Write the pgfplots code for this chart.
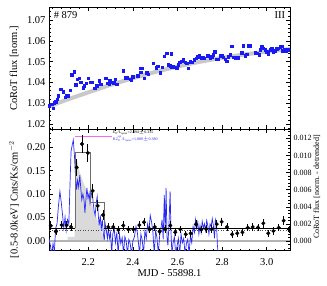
\documentclass[border=0pt]{standalone}
\usepackage{fontspec}
\setmainfont{Liberation Serif}
\usepackage{pgfplots}
\pgfplotsset{compat=1.18}
\definecolor{ptblue}{RGB}{25,25,245}
\definecolor{lnblue}{RGB}{40,40,250}
\definecolor{trend}{RGB}{200,200,200}
\definecolor{fillg}{RGB}{218,218,218}
\definecolor{stepg}{RGB}{110,110,110}
\definecolor{pinkl}{RGB}{255,100,240}
\begin{document}
\begin{tikzpicture}
\useasboundingbox (0pt,0pt) rectangle (327pt,285pt);
\pgfplotsset{
 every axis/.append style={scale only axis, width=241pt,
   font=\fontsize{10.5}{12}\selectfont,
   tick align=inside, major tick length=4pt, minor tick length=2pt,
   tick style={black, line width=0.5pt},
   /pgf/number format/assume math mode=true,
   axis line style={line width=0.6pt},
   xmin=2.024, xmax=3.1045, clip=true,
   xtick={2.2,2.4,2.6,2.8,3.0},
   minor xtick={2.04,2.08,2.12,2.16,2.24,2.28,2.32,2.36,2.44,2.48,2.52,2.56,2.64,2.68,2.72,2.76,2.84,2.88,2.92,2.96,3.04,3.08},
   scaled x ticks=false, scaled y ticks=false},
}
% ---------------- top panel ----------------
\begin{axis}[anchor=south west, at={(49pt,155.7pt)}, height=122pt,
  ymin=1.01745, ymax=1.0761,
  ytick={1.02,1.03,1.04,1.05,1.06,1.07},
  minor ytick={1.018,1.022,1.024,1.026,1.028,1.032,1.034,1.036,1.038,1.042,1.044,1.046,1.048,1.052,1.054,1.056,1.058,1.062,1.064,1.066,1.068,1.072,1.074},
  xticklabels={},
  yticklabel style={/pgf/number format/fixed, /pgf/number format/fixed zerofill, /pgf/number format/precision=2},
  ylabel={CoRoT flux [norm.]},
  ylabel style={at={(axis description cs:-0.145,0.5)}, anchor=center},
]
\addplot[trend, line width=4pt, smooth] coordinates {
(2.024,1.0284) (2.1,1.0315) (2.2,1.0352) (2.3,1.0388) (2.4,1.0420) (2.5,1.0450) (2.6,1.0476) (2.7,1.0499) (2.8,1.0518) (2.9,1.0534) (3.0,1.0548) (3.1045,1.0560)};
\addplot[only marks, mark=square*, mark size=1.25pt, ptblue] coordinates {
(2.024,1.0287) (2.036,1.0296) (2.042,1.0275) (2.048,1.0302) (2.055,1.0307) (2.061,1.0320) (2.066,1.0335) (2.076,1.0367) (2.088,1.0355) (2.096,1.0328) (2.103,1.0335) (2.111,1.0336) (2.118,1.0363) (2.126,1.0436) (2.137,1.0451) (2.144,1.0388) (2.150,1.0415) (2.160,1.0420) (2.167,1.0400) (2.178,1.0375) (2.182,1.0383) (2.190,1.0396) (2.200,1.0420) (2.208,1.0400) (2.215,1.0400) (2.230,1.0372) (2.238,1.0383) (2.250,1.0408) (2.256,1.0392) (2.278,1.0420) (2.285,1.0396) (2.293,1.0392) (2.297,1.0408) (2.305,1.0400) (2.315,1.0399) (2.320,1.0415) (2.328,1.0391) (2.356,1.0456) (2.365,1.0423) (2.374,1.0423) (2.387,1.0415) (2.392,1.0412) (2.399,1.0427) (2.422,1.0431) (2.432,1.0468) (2.435,1.0449) (2.442,1.0468) (2.451,1.0420) (2.462,1.0447) (2.469,1.0439) (2.492,1.0492) (2.504,1.0471) (2.511,1.0479) (2.522,1.0447) (2.532,1.0473) (2.541,1.0527) (2.552,1.0540) (2.559,1.0484) (2.567,1.0480) (2.571,1.0537) (2.574,1.0473) (2.581,1.0479) (2.589,1.0473) (2.597,1.0471) (2.604,1.0484) (2.611,1.0497) (2.619,1.0503) (2.626,1.0508) (2.634,1.0497) (2.641,1.0492) (2.649,1.0468) (2.656,1.0500) (2.664,1.0497) (2.676,1.0508) (2.683,1.0516) (2.691,1.0524) (2.698,1.0528) (2.706,1.0516) (2.713,1.0519) (2.720,1.0516) (2.736,1.0528) (2.746,1.0519) (2.754,1.0524) (2.761,1.0532) (2.768,1.0548) (2.776,1.0512) (2.783,1.0511) (2.791,1.0528) (2.798,1.0528) (2.806,1.0521) (2.813,1.0512) (2.821,1.0503) (2.828,1.0524) (2.836,1.0532) (2.843,1.0575) (2.850,1.0521) (2.858,1.0519) (2.873,1.0519) (2.888,1.0543) (2.895,1.0576) (2.903,1.0528) (2.910,1.0535) (2.918,1.0576) (2.925,1.0576) (2.948,1.0543) (2.955,1.0540) (2.966,1.0532) (2.970,1.0556) (2.978,1.0572) (2.985,1.0564) (2.993,1.0556) (3.000,1.0548) (3.007,1.0537) (3.015,1.0556) (3.023,1.0561) (3.030,1.0548) (3.037,1.0552) (3.045,1.0561) (3.052,1.0564) (3.060,1.0572) (3.067,1.0575) (3.070,1.0552) (3.079,1.0559) (3.085,1.0552) (3.094,1.0556)};
\node[anchor=north west, inner sep=1pt] at (rel axis cs:0.015,0.975) {\# 879};
\node[anchor=north east, inner sep=1pt] at (rel axis cs:0.985,0.975) {III};
\end{axis}
% ---------------- bottom panel: left axis (background) ----------------
\begin{axis}[anchor=south west, at={(49pt,34.3pt)}, height=121.4pt,
  ymin=-0.0207, ymax=0.2384, axis y line*=left,
  ytick={0,0.05,0.10,0.15,0.20},
  minor ytick={-0.01,0.01,0.02,0.03,0.04,0.06,0.07,0.08,0.09,0.11,0.12,0.13,0.14,0.16,0.17,0.18,0.19,0.21,0.22,0.23},
  xticklabel style={yshift=-4pt, /pgf/number format/fixed, /pgf/number format/fixed zerofill, /pgf/number format/precision=1},
  yticklabel style={/pgf/number format/fixed, /pgf/number format/fixed zerofill, /pgf/number format/precision=2},
  xlabel={MJD - 55898.1},
  xlabel style={at={(axis description cs:0.5,-0.184)}, anchor=center},
  ylabel={[0.5-8.0keV] Cnts/Ks/cm$^{-2}$},
  ylabel style={at={(axis description cs:-0.145,0.42)}, anchor=center},
]
\addplot[fill=fillg, draw=none] coordinates {
(2.108,0) (2.108,0.009) (2.139,0.009) (2.142,0.175) (2.150,0.172) (2.160,0.150) (2.175,0.128) (2.190,0.112) (2.205,0.095) (2.220,0.072) (2.235,0.052) (2.250,0.032) (2.262,0.015) (2.272,0.008) (2.272,0)} \closedcycle;
\addplot[trend!90!black, line width=1.3pt] coordinates {(2.024,0) (3.1045,0)};
\addplot[black!70, dotted, line width=0.6pt] coordinates {(2.024,0.0235) (3.1045,0.0235)};
\end{axis}
% ---------------- bottom panel: right axis (blue) ----------------
\begin{axis}[anchor=south west, at={(49pt,34.3pt)}, height=121.4pt,
  ymin=-0.00113, ymax=0.01305, axis y line*=right, axis x line=none,
  ytick={0,0.002,0.004,0.006,0.008,0.010,0.012},
  minor ytick={-0.0008,-0.0004,0.0004,0.0008,0.0012,0.0016,0.0024,0.0028,0.0032,0.0036,0.0044,0.0048,0.0052,0.0056,0.0064,0.0068,0.0072,0.0076,0.0084,0.0088,0.0092,0.0096,0.0104,0.0108,0.0112,0.0116,0.0124,0.0128},
  yticklabel style={font=\fontsize{8}{9}\selectfont, /pgf/number format/fixed, /pgf/number format/fixed zerofill, /pgf/number format/precision=3},
  ylabel={CoRoT flux [norm. - detrended]},
  ylabel style={font=\fontsize{8}{9}\selectfont, at={(axis description cs:1.111,0.525)}, anchor=center},
]
\addplot[lnblue, line width=0.7pt] coordinates {
(2.024,0.0003) (2.030,-0.0005) (2.036,-0.0015) (2.042,-0.0003) (2.048,-0.0012) (2.054,0.0015) (2.060,0.0020) (2.066,0.0040) (2.073,0.0058) (2.079,0.0045) (2.085,0.0030) (2.090,0.0015) (2.096,0.0028) (2.101,0.0012) (2.107,0.0025) (2.113,0.0020) (2.118,0.0065) (2.123,0.0105) (2.128,0.0112) (2.133,0.0118) (2.138,0.0100) (2.143,0.0075) (2.148,0.0060) (2.152,0.0071) (2.157,0.0063) (2.162,0.0077) (2.167,0.0060) (2.171,0.0048) (2.176,0.0055) (2.181,0.0048) (2.185,0.0033) (2.190,0.0050) (2.194,0.0062) (2.199,0.0050) (2.204,0.0056) (2.208,0.0044) (2.213,0.0052) (2.217,0.0060) (2.222,0.0045) (2.226,0.0036) (2.231,0.0030) (2.236,0.0045) (2.240,0.0052) (2.245,0.0030) (2.249,0.0018) (2.254,0.0030) (2.258,0.0013) (2.263,0.0025) (2.267,0.0010) (2.272,0.0001) (2.276,0.0020) (2.281,0.0012) (2.286,0.0003) (2.290,0.0015) (2.295,0.0003) (2.300,0.0010) (2.305,-0.0015) (2.310,0.0008) (2.316,0.0015) (2.322,-0.0002) (2.328,0.0010) (2.334,-0.0015) (2.340,0.0008) (2.346,-0.0003) (2.352,0.0004) (2.358,-0.0015) (2.364,0.0005) (2.370,0.0000) (2.376,-0.0015) (2.382,0.0002) (2.388,-0.0003) (2.394,-0.0015) (2.400,0.0000) (2.407,0.0005) (2.414,0.0017) (2.420,0.0010) (2.425,-0.0002) (2.430,-0.0015) (2.436,0.0008) (2.442,0.0001) (2.448,-0.0015) (2.454,0.0012) (2.460,0.0003) (2.466,0.0020) (2.472,0.0012) (2.478,0.0030) (2.484,0.0022) (2.490,0.0010) (2.496,-0.0015) (2.502,0.0012) (2.508,0.0004) (2.514,-0.0015) (2.520,0.0006) (2.526,0.0015) (2.531,0.0025) (2.536,0.0002) (2.541,0.0054) (2.545,0.0010) (2.549,0.0062) (2.553,0.0005) (2.557,-0.0005) (2.562,0.0020) (2.567,0.0058) (2.571,0.0010) (2.575,-0.0015) (2.580,-0.0003) (2.586,0.0005) (2.592,-0.0015) (2.598,-0.0006) (2.604,0.0003) (2.610,-0.0015) (2.616,0.0008) (2.622,-0.0002) (2.628,0.0003) (2.634,-0.0015) (2.640,-0.0003) (2.646,0.0002) (2.652,-0.0015) (2.658,0.0006) (2.664,-0.0002) (2.670,0.0017) (2.676,0.0010) (2.681,0.0025) (2.686,0.0015) (2.691,0.0022) (2.696,0.0008) (2.701,0.0018) (2.706,0.0010) (2.711,0.0023) (2.716,0.0015) (2.721,0.0020) (2.726,0.0012) (2.731,0.0024) (2.736,0.0018) (2.741,0.0008) (2.746,0.0020) (2.751,0.0017) (2.756,0.0026) (2.761,0.0018) (2.766,0.0003) (2.770,0.0025) (2.775,0.0020) (2.779,-0.0005) (2.783,-0.0015)};
\end{axis}
% ---------------- bottom panel: foreground ----------------
\begin{axis}[anchor=south west, at={(49pt,34.3pt)}, height=121.4pt,
  ymin=-0.0207, ymax=0.2384, hide axis]
\addplot[stepg, line width=1pt, const plot] coordinates {
(2.141,0.027) (2.141,0.188) (2.209,0.083) (2.272,0.027)};
\addplot[black, line width=1.1pt] coordinates {(2.024,0.027) (2.141,0.027)};
\addplot[black, line width=1.1pt] coordinates {(2.272,0.027) (3.1045,0.027)};
\addplot[pinkl, line width=1pt] coordinates {(2.141,0.222) (2.305,0.222)};
\addplot[only marks, mark=*, mark size=1.8pt, black,
  error bars/.cd, y dir=both, y explicit, x dir=both, x fixed=0.005,
  error bar style={line width=0.8pt, black}, error mark=none]
 table[x=x, y=y, y error=e] {
x y e
2.032 0.0327 0.009
2.055 0.020 0.008
2.081 0.034 0.009
2.103 0.034 0.009
2.123 0.030 0.009
2.148 0.157 0.018
2.172 0.207 0.020
2.198 0.188 0.019
2.220 0.107 0.015
2.242 0.075 0.012
2.266 0.0555 0.010
2.290 0.030 0.009
2.312 0.030 0.009
2.335 0.0235 0.008
2.357 0.033 0.009
2.380 0.025 0.008
2.403 0.025 0.008
2.429 0.034 0.009
2.450 0.040 0.009
2.476 0.025 0.008
2.498 0.030 0.009
2.520 0.020 0.008
2.544 0.0256 0.008
2.568 0.033 0.009
2.590 0.0186 0.008
2.613 0.025 0.008
2.637 0.0143 0.007
2.659 0.0164 0.007
2.683 0.0356 0.009
2.706 0.025 0.008
2.729 0.0256 0.008
2.754 0.0256 0.008
2.776 0.036 0.009
2.798 0.041 0.009
2.822 0.030 0.009
2.845 0.0143 0.007
2.868 0.0164 0.007
2.891 0.0186 0.008
2.915 0.0284 0.008
2.937 0.030 0.009
2.961 0.029 0.008
2.985 0.0378 0.009
3.007 0.0164 0.007
3.030 0.0213 0.008
3.054 0.0284 0.008
3.076 0.0433 0.009
3.100 0.025 0.008
};
\node[anchor=west, inner sep=0pt, font=\fontsize{4}{4}\selectfont] at (axis cs:2.31,0.2305) {E$_{\rm fl}$/L$_{\rm quies}$=2.494$\pm$0.335};
\node[anchor=west, inner sep=0pt, font=\fontsize{4}{4}\selectfont, text=lnblue] at (axis cs:2.31,0.2175) {K2$^{\rm opt}_{\rm fl}$/L$_{\rm quies}$=1.880$\pm$0.380};
\end{axis}
\end{tikzpicture}
\end{document}
